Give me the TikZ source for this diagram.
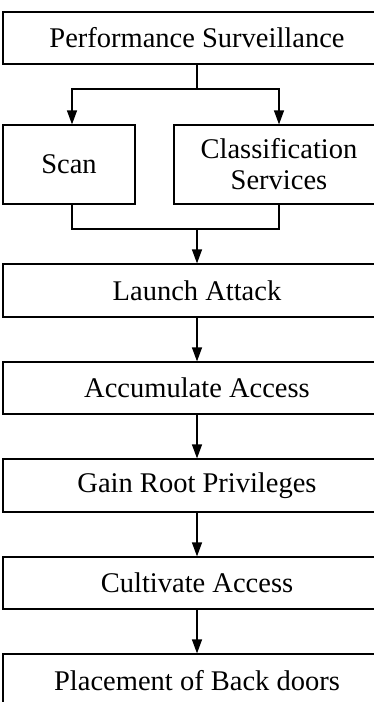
\documentclass[tikz,border=0pt]{standalone}
\usepackage{fontspec}
\setmainfont{Liberation Serif}
\usetikzlibrary{arrows.meta}
\begin{document}
\begin{tikzpicture}[x=1pt,y=-1pt,
  box/.style={draw,line width=1.2pt,inner sep=0pt,align=center,font=\fontsize{28.5}{31}\selectfont},
  arr/.style={line width=1.2pt,-{Triangle[length=14pt,width=10pt]}},
  ln/.style={line width=1.2pt}]
\clip (0,0) rectangle (374,702);
\fill[white] (0,0) rectangle (374,702);
\node[box,minimum width=388pt,minimum height=52pt] (ps) at (197,38) {Performance Surveillance};
\node[box,minimum width=132pt,minimum height=79pt] (scan) at (69,164.5) {Scan};
\node[box,minimum width=210pt,minimum height=79pt] (cls) at (279,164.5) {Classification\\Services};
\node[box,minimum width=388pt,minimum height=53pt] (la) at (197,290.5) {Launch Attack};
\node[box,minimum width=388pt,minimum height=52pt] (aa) at (197,388) {Accumulate Access};
\node[box,minimum width=388pt,minimum height=53pt] (gr) at (197,485.5) {Gain Root Privileges};
\node[box,minimum width=388pt,minimum height=52pt] (ca) at (197,583) {Cultivate Access};
\node[box,minimum width=388pt,minimum height=53pt] (pb) at (197,680.5) {Placement of Back doors};
\coordinate (j1) at (197,89);
\coordinate (j2) at (197,229);
\coordinate (sx) at (72,0);
\coordinate (cx) at (279,0);
\draw[ln] (ps.south) -- (j1);
\draw[arr] (j1) -| (scan.north -| sx);
\draw[arr] (j1) -| (cls.north -| cx);
\draw[ln] (scan.south -| sx) |- (j2) -| (cls.south -| cx);
\draw[arr] (j2) -- (la.north);
\draw[arr] (la) -- (aa);
\draw[arr] (aa) -- (gr);
\draw[arr] (gr) -- (ca);
\draw[arr] (ca) -- (pb);
\end{tikzpicture}
\end{document}
